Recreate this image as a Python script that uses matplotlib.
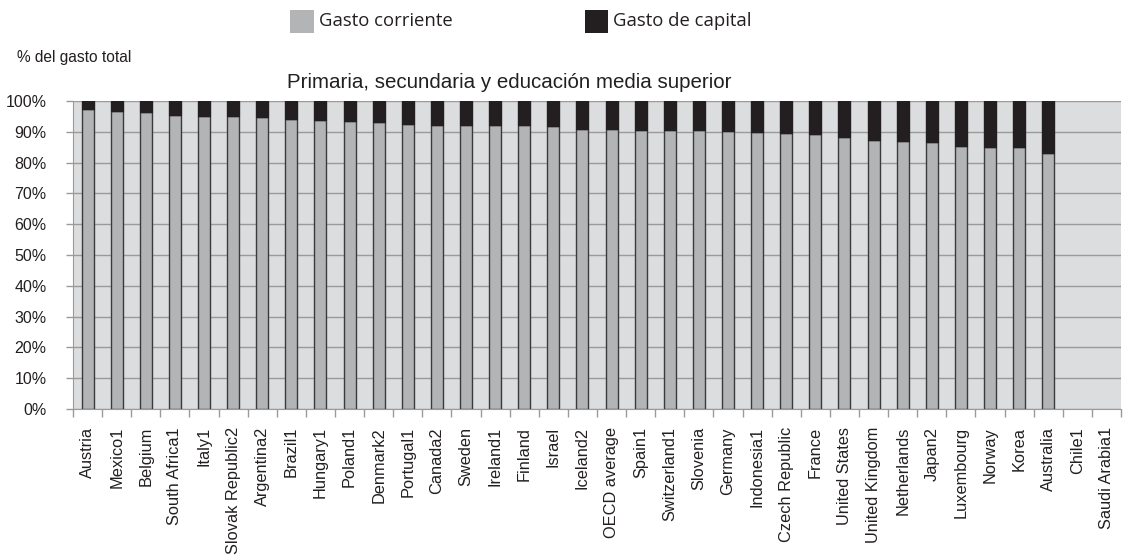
import numpy as np
import matplotlib
matplotlib.use("Agg")
import matplotlib.pyplot as plt
from matplotlib.patches import Rectangle

countries = ["Austria", "Mexico1", "Belgium", "South Africa1", "Italy1", "Slovak Republic2",
             "Argentina2", "Brazil1", "Hungary1", "Poland1", "Denmark2", "Portugal1", "Canada2",
             "Sweden", "Ireland1", "Finland", "Israel", "Iceland2", "OECD average", "Spain1",
             "Switzerland1", "Slovenia", "Germany", "Indonesia1", "Czech Republic", "France",
             "United States", "United Kingdom", "Netherlands", "Japan2", "Luxembourg", "Norway",
             "Korea", "Australia", "Chile1", "Saudi Arabia1"]

gasto_corriente = [97.4, 96.7, 96.5, 95.6, 95.2, 95.2, 94.9, 94.3, 93.7, 93.6, 93.1, 92.5, 92.3,
                   92.3, 92.3, 92.1, 91.8, 91.0, 90.9, 90.7, 90.7, 90.7, 90.3, 89.9, 89.6, 89.3,
                   88.2, 87.4, 87.1, 86.8, 85.5, 85.2, 85.0, 83.2, np.nan, np.nan]
gasto_capital = [100 - v if not np.isnan(v) else np.nan for v in gasto_corriente]

yticks = [0, 10, 20, 30, 40, 50, 60, 70, 80, 90, 100]
ytick_labels = [f"{t}%" for t in yticks]

fam = ["Liberation Sans", "DejaVu Sans"]
plt.rcParams['font.family'] = fam

fig = plt.figure(figsize=(11.28, 5.55), dpi=100)
ax = fig.add_axes([73/1128, 1 - 409/555, (1121-73)/1128, (409-101)/555])

x = np.arange(len(countries))
cur = np.array(gasto_corriente, dtype=float)
cap = np.array(gasto_capital, dtype=float)
mask = ~np.isnan(cur)
w = 0.41
ax.bar(x[mask], cur[mask], width=w, color="#b3b4b6", edgecolor="#3a3a3a", linewidth=1.0, zorder=3)
ax.bar(x[mask], cap[mask], bottom=cur[mask], width=w, color="#231f20",
       edgecolor="#231f20", linewidth=1.0, zorder=3)

ax.set_facecolor("#dcddde")
ax.set_xlim(-0.5, len(countries) - 0.5)
ax.set_ylim(0, 100)
ax.set_yticks(yticks)
ax.set_yticklabels(ytick_labels, fontsize=11.5, color="#231f20")
ax.yaxis.grid(True, color="#9a9a9a", linewidth=1.0, zorder=1)
ax.set_axisbelow(True)

ax.set_xticks(x)
ax.set_xticklabels(countries, rotation=90, fontsize=11.8, color="#231f20")
ax.set_xticks(np.arange(-0.5, len(countries), 1), minor=True)
ax.tick_params(axis='x', which='major', length=0, pad=13)
ax.tick_params(axis='x', which='minor', length=6, color="#9a9a9a", width=1)
ax.tick_params(axis='y', length=5, color="#9a9a9a", width=1, pad=14)

for s in ["top", "right"]:
    ax.spines[s].set_visible(False)
ax.spines["left"].set_color("#9a9a9a")
ax.spines["bottom"].set_color("#9a9a9a")

ax.set_title("Primaria, secundaria y educación media superior", fontsize=14.8,
             color="#231f20", pad=9, x=0.416)

fig.text(17/1128, 1 - 57/555, "% del gasto total", fontsize=11.2, color="#231f20", va="center")

# legend
lfam = ["Open Sans", "DejaVu Sans"]
fig.patches.append(Rectangle((290/1128, 1 - 33/555), 24/1128, 23/555, transform=fig.transFigure,
                             facecolor="#b3b4b6", edgecolor="none"))
fig.text(319/1128, 1 - 21/555, "Gasto corriente", fontsize=13.3, color="#231f20", va="center", family=lfam)
fig.patches.append(Rectangle((585/1128, 1 - 33/555), 23/1128, 23/555, transform=fig.transFigure,
                             facecolor="#231f20", edgecolor="none"))
fig.text(613/1128, 1 - 21/555, "Gasto de capital", fontsize=13.3, color="#231f20", va="center", family=lfam)

fig.savefig("out.png", dpi=100)
